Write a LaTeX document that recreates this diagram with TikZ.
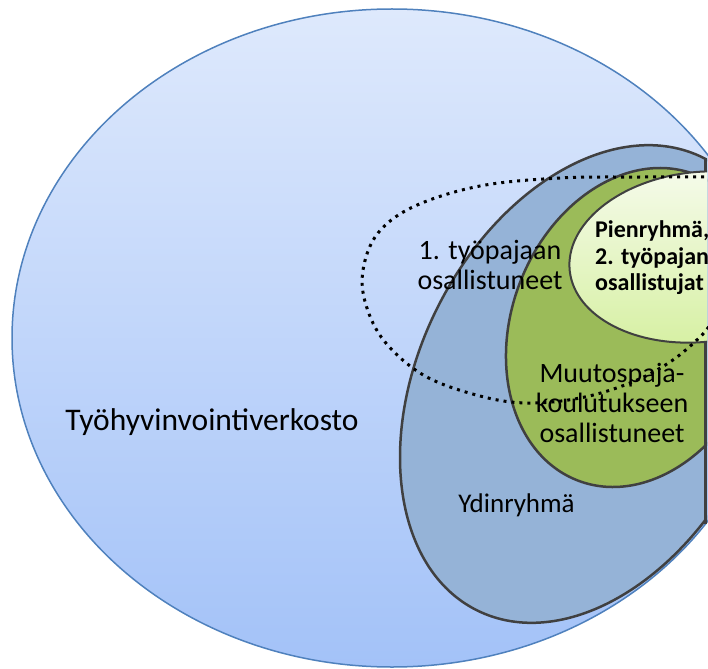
\documentclass[tikz,border=0pt]{standalone}
\usepackage{fontspec}
\setmainfont{Carlito}
\definecolor{bigtop}{RGB}{222,233,252}
\definecolor{bigbot}{RGB}{163,194,248}
\definecolor{bigline}{RGB}{79,129,189}
\definecolor{ydin}{RGB}{149,179,215}
\definecolor{muut}{RGB}{155,187,89}
\definecolor{pientop}{RGB}{246,251,236}
\definecolor{pienbot}{RGB}{214,240,162}
\definecolor{outl}{RGB}{64,64,64}
\tikzset{
  shapeline/.style={draw=outl, line width=2.5pt},
  lbl/.style={inner sep=0pt, text=black},
  bigtxt/.style={font=\fontsize{28}{30}\selectfont},
  boldtxt/.style={font=\fontsize{24}{26.5}\selectfont\bfseries},
}
\begin{document}
\begin{tikzpicture}[x=1pt,y=-1pt]
\useasboundingbox (0,0) rectangle (708,668);
\clip (0,0) rectangle (708,668);
% outer network ellipse
\path[draw=bigline, line width=1.5pt, top color=bigtop, bottom color=bigbot]
  (392,338) ellipse [x radius=380pt, y radius=329pt];
\begin{scope}
  \clip (0,0) rectangle (707,668);
  % Ydinryhma
  \path[shapeline, fill=ydin, rotate around={63.4:(590,384)}]
    (590,384) ellipse [x radius=253pt, y radius=170.6pt];
  % Muutospaja
  \path[shapeline, fill=muut, rotate around={69.1:(636.5,327.5)}]
    (636.5,327.5) ellipse [x radius=163.9pt, y radius=124.9pt];
  \draw[outl, line width=2.5pt] (705.5,159) -- (705.5,524);
  % Pienryhma
  \path[draw=outl, line width=2pt, top color=pientop, bottom color=pienbot, rotate around={6:(700,257)}]
    (700,257) ellipse [x radius=131pt, y radius=85pt];
\end{scope}
% dotted workshop ellipse
\draw[black, line width=3pt, dash pattern=on 3pt off 5pt]
  plot[smooth, tension=0.6] coordinates {(712,177) (640,177) (560,178) (480,186) (415,206) (378,233) (363,270) (366,305) (385,342) (425,376) (480,396) (527,403) (580,398) (630,383) (670,362) (700,337) (712,322)};
% labels
\node[lbl, font=\fontsize{31.5}{34}\selectfont, anchor=base] (verkosto) at (212,430) {Työhyvinvointiverkosto};
\node[lbl, bigtxt, align=center] (tp1) at (490,265) {1. työpajaan\\osallistuneet};
\node[lbl, boldtxt, align=left, anchor=west] (pien) at (595,258) {Pienryhmä,\\2. työpajan\\osallistujat};
\node[lbl, bigtxt, align=center] (muutos) at (612,402.5) {Muutospaja-\\koulutukseen\\osallistuneet};
\node[lbl, font=\fontsize{27}{30}\selectfont, anchor=base] (ydin) at (516.5,512) {Ydinryhmä};
\end{tikzpicture}
\end{document}
